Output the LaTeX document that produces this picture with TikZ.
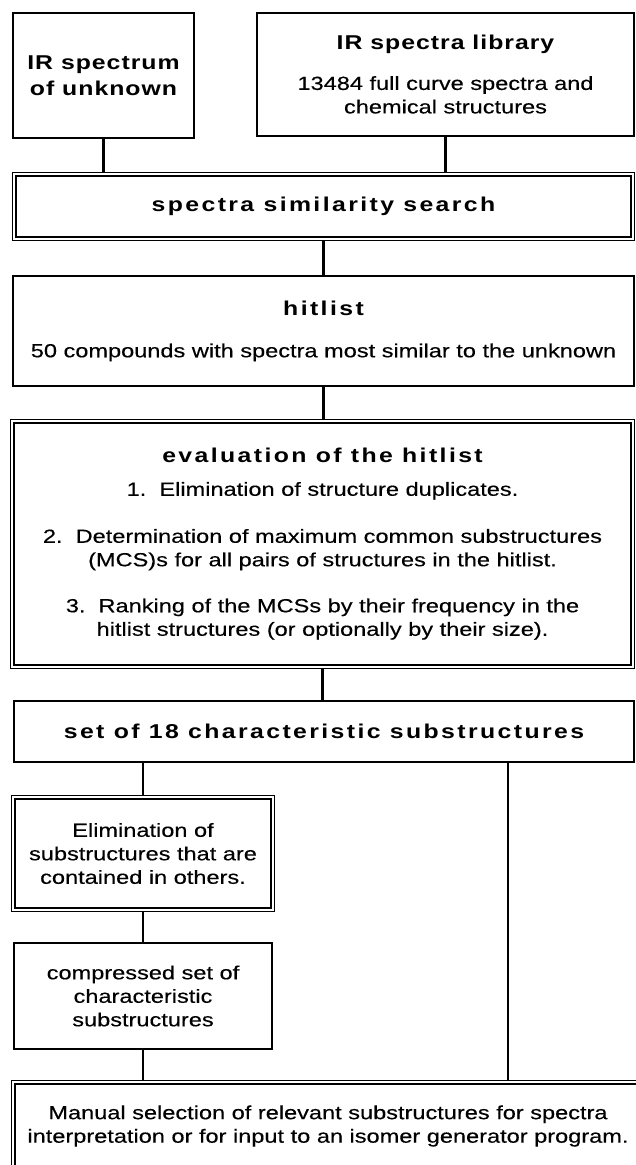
\documentclass[tikz,border=0pt]{standalone}
\usepackage{fontspec}
\setmainfont{Liberation Sans}[FakeStretch=1.24,UprightFeatures={FakeBold=0.35}]
\newfontfamily\hdfont{Liberation Sans}[FakeStretch=1.24,LetterSpace=5]
\newfontfamily\spfont{Liberation Sans}[FakeStretch=1.24,LetterSpace=12]
\newcommand{\bodytxt}{\fontsize{19}{23.5}\selectfont}
\newcommand{\hdtxt}{\hdfont\bfseries\fontsize{20}{26}\selectfont}
\newcommand{\sptxt}{\spfont\bfseries\fontsize{20}{26}\selectfont}

\begin{document}
\begin{tikzpicture}[x=1pt, y=1pt]
    \tikzstyle{every node}+=[inner sep=0pt, align=center, font=\bodytxt]
    \tikzstyle{plainbox}=[draw, line width=2pt, outer sep=1pt]
    \tikzstyle{dblbox}=[draw, double, double distance=2pt, line width=1.4pt, outer sep=2.4pt]
    \tikzstyle{link}=[line width=2.8pt]
    \clip (0,0) rectangle (636,-1165);
    \node [plainbox, minimum width=181.4, minimum height=125.4, font=\hdtxt] (unknown) at (103.5,-75.5) {IR spectrum\\of unknown};
    \node [plainbox, minimum width=377.4, minimum height=123.4] (library) at (445.5,-74.5) {{\hdtxt IR spectra library}\\[16.5pt]13484 full curve spectra and\\chemical structures};
    \node [dblbox, minimum width=618.6, minimum height=64.6, font=\sptxt] (search) at (323.5,-206.5) {spectra similarity search};
    \node [plainbox, minimum width=621.4, minimum height=110.4] (hitlist) at (323.5,-331) {{\sptxt hitlist}\\[18.5pt]50 compounds with spectra most similar to the unknown};
    \node [dblbox, minimum width=620.6, minimum height=245.6] (evaluation) at (322.5,-544) {{\sptxt evaluation of the hitlist}\\[9.5pt]1.~~Elimination of structure duplicates.\\[23.5pt]2.~~Determination of maximum common substructures\\(MCS)s for all pairs of structures in the hitlist.\\[22.5pt]3.~~Ranking of the MCSs by their frequency in the\\hitlist structures (or optionally by their size).};
    \node [plainbox, minimum width=620.4, minimum height=61.4, font=\sptxt] (charset) at (324,-731.5) {set of 18 characteristic substructures};
    \node [dblbox, minimum width=259.6, minimum height=112.6] (elimination) at (143,-853.5) {Elimination of\\substructures that are\\contained in others.};
    \node [plainbox, minimum width=258.4, minimum height=106.4] (compressed) at (143,-996) {compressed set of\\characteristic\\substructures};
    \node [dblbox, minimum width=629.6, minimum height=87.8] (manual) at (328,-1126) {Manual selection of relevant substructures for spectra\\interpretation or for input to an isomer generator program.};
    \draw [link] (unknown.south) -- (unknown.south |- search.north);
    \draw [link] (library.south) -- (library.south |- search.north);
    \draw [link] (search.south) -- (search.south |- hitlist.north);
    \draw [link] (hitlist.south) -- (hitlist.south |- evaluation.north);
    \draw [link] (evaluation.south) -- (evaluation.south |- charset.north);
    \draw [link] (elimination.north |- charset.south) -- (elimination.north);
    \draw [link] (elimination.south) -- (compressed.north);
    \draw [link] (compressed.south) -- (compressed.south |- manual.north);
    \draw [link] (charset.south -| 508,0) -- (manual.north -| 508,0);
\end{tikzpicture}
\end{document}
